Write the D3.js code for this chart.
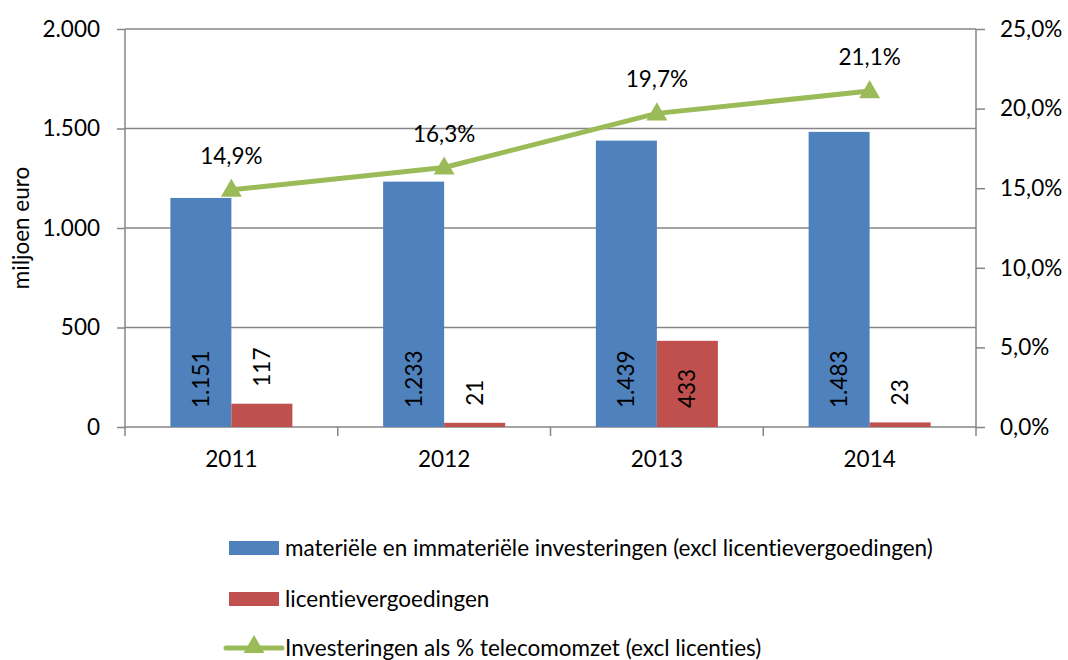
<!DOCTYPE html>
<html>
<head>
<meta charset="utf-8">
<script src="https://cdn.jsdelivr.net/npm/d3@7"></script>
<style>
  body { margin: 0; background: #fff; }
  svg { font-family: Lato, "Open Sans", sans-serif; font-variant-ligatures: none; }
</style>
</head>
<body>
<div id="chart"></div>
<script>
// Data
const years = ["2011", "2012", "2013", "2014"];
const materieel = [1151, 1233, 1439, 1483];
const licenties = [117, 21, 433, 23];
const percentage = [0.149, 0.163, 0.197, 0.211];
const leftTicks = [0, 500, 1000, 1500, 2000];
const rightTicks = [0, 0.05, 0.1, 0.15, 0.2, 0.25];
const seriesNames = [
  "materiële en immateriële investeringen (excl licentievergoedingen)",
  "licentievergoedingen",
  "Investeringen als % telecomomzet (excl licenties)"
];

const W = 1068;
const H = 660;
const BLUE = "#4F81BD";
const RED = "#C0504D";
const GREEN = "#9BBB59";
const GRID = "#868686";
const FONT = 22.5;

const nl = d3.formatLocale({
  decimal: ",",
  thousands: ".",
  grouping: [3],
  currency: ["€", ""]
});
const fmtNum = nl.format(",d");
const fmtPct = nl.format(".1%");

const svg = d3
  .select("#chart")
  .append("svg")
  .attr("width", W)
  .attr("height", H);

// Scales
const x = d3.scaleBand().domain(years).range([125, 976]).padding(0);
const y = d3.scaleLinear().domain([0, 2000]).range([427, 29]);
const y2 = d3.scaleLinear().domain([0, 0.25]).range([427, 29]);
const BAR_W = 61;

// Gridlines
svg
  .append("g")
  .selectAll("line")
  .data(leftTicks)
  .enter()
  .append("line")
  .attr("x1", 125)
  .attr("x2", 976)
  .attr("y1", (d) => y(d))
  .attr("y2", (d) => y(d))
  .attr("stroke", GRID)
  .attr("stroke-width", 1.5);

// Left axis
const leftAxis = svg
  .append("g")
  .attr("transform", "translate(125,0)")
  .call(
    d3.axisLeft(y).tickValues(leftTicks).tickSize(8).tickPadding(17).tickFormat(fmtNum)
  );
leftAxis.select(".domain").attr("d", "M0,29V436");

// Right axis
const rightAxis = svg
  .append("g")
  .attr("transform", "translate(976,0)")
  .call(
    d3.axisRight(y2).tickValues(rightTicks).tickSize(9).tickPadding(15).tickFormat(fmtPct)
  );
rightAxis.select(".domain").attr("d", "M0,29V436");

// Bottom axis (category ticks between groups)
const bottomAxis = svg
  .append("g")
  .attr("transform", "translate(0,427)")
  .call(d3.axisBottom(x).tickSize(0).tickPadding(24));
bottomAxis.select(".domain").remove();
bottomAxis
  .append("g")
  .selectAll("line")
  .data(years.slice(1))
  .enter()
  .append("line")
  .attr("x1", (d) => x(d))
  .attr("x2", (d) => x(d))
  .attr("y1", 0)
  .attr("y2", 9)
  .attr("stroke", GRID)
  .attr("stroke-width", 1.5);

svg
  .selectAll(".tick line, .domain")
  .attr("stroke", GRID)
  .attr("stroke-width", 1.5);
svg
  .selectAll(".tick text")
  .attr("font-size", FONT)
  .attr("font-family", "Lato, 'Open Sans', sans-serif")
  .attr("fill", "#000");

// Axis title
svg
  .append("text")
  .attr("transform", "translate(29,228) rotate(-90)")
  .attr("text-anchor", "middle")
  .attr("font-size", FONT)
  .text("miljoen euro");

// Bars
const center = (d) => x(d) + x.bandwidth() / 2;

svg
  .append("g")
  .selectAll("rect")
  .data(years)
  .enter()
  .append("rect")
  .attr("x", (d) => center(d) - BAR_W)
  .attr("y", (d, i) => y(materieel[i]))
  .attr("width", BAR_W)
  .attr("height", (d, i) => y(0) - y(materieel[i]))
  .attr("fill", BLUE);

svg
  .append("g")
  .selectAll("rect")
  .data(years)
  .enter()
  .append("rect")
  .attr("x", (d) => center(d))
  .attr("y", (d, i) => y(licenties[i]))
  .attr("width", BAR_W)
  .attr("height", (d, i) => y(0) - y(licenties[i]))
  .attr("fill", RED);

// Bar value labels (rotated)
function barLabels(values, offset) {
  svg
    .append("g")
    .selectAll("text")
    .data(years)
    .enter()
    .append("text")
    .attr("font-size", FONT)
    .attr("fill", "#000")
    .text((d, i) => fmtNum(values[i]))
    .each(function (d, i) {
      const len = this.getComputedTextLength();
      const h = y(0) - y(values[i]);
      // inside base if it fits, otherwise just above the bar
      const start = h > len + 30 ? y(0) - 19 : y(values[i]) - 17;
      const cx = center(d) + offset + 8;
      d3.select(this).attr(
        "transform",
        "translate(" + cx + "," + start + ") rotate(-90)"
      );
    });
}
barLabels(materieel, -BAR_W / 2);
barLabels(licenties, BAR_W / 2);

// Line
const line = d3
  .line()
  .x((d, i) => center(years[i]))
  .y((d) => y2(d));

svg
  .append("path")
  .datum(percentage)
  .attr("d", line)
  .attr("fill", "none")
  .attr("stroke", GREEN)
  .attr("stroke-width", 5)
  .attr("stroke-linejoin", "round");

const tri = d3.symbol().type(d3.symbolTriangle).size(190);
svg
  .append("g")
  .selectAll("path")
  .data(percentage)
  .enter()
  .append("path")
  .attr("d", tri)
  .attr("transform", (d, i) => "translate(" + center(years[i]) + "," + (y2(d) + 1) + ")")
  .attr("fill", GREEN);

svg
  .append("g")
  .selectAll("text")
  .data(percentage)
  .enter()
  .append("text")
  .attr("x", (d, i) => center(years[i]))
  .attr("y", (d) => y2(d) - 26)
  .attr("text-anchor", "middle")
  .attr("font-size", FONT)
  .text((d) => fmtPct(d));

// Legend
const legend = svg.append("g").attr("id", "legend");
const LEG_X = 229;
const LEG_ROWS = [548, 599, 648];
const legendColors = [BLUE, RED, GREEN];

seriesNames.forEach((name, i) => {
  const g = legend.append("g").attr("transform", "translate(" + LEG_X + "," + LEG_ROWS[i] + ")");
  if (i < 2) {
    g.append("rect")
      .attr("x", 0)
      .attr("y", -7)
      .attr("width", 50)
      .attr("height", 14)
      .attr("fill", legendColors[i]);
  } else {
    g.append("line")
      .attr("x1", -3)
      .attr("x2", 53)
      .attr("y1", 0)
      .attr("y2", 0)
      .attr("stroke", GREEN)
      .attr("stroke-width", 5)
      .attr("stroke-linecap", "round");
    g.append("path")
      .attr("d", tri)
      .attr("transform", "translate(25,-1)")
      .attr("fill", GREEN);
  }
  g.append("text")
    .attr("x", 56)
    .attr("dy", "0.35em")
    .attr("font-size", FONT)
    .text(name);
});
</script>
</body>
</html>
